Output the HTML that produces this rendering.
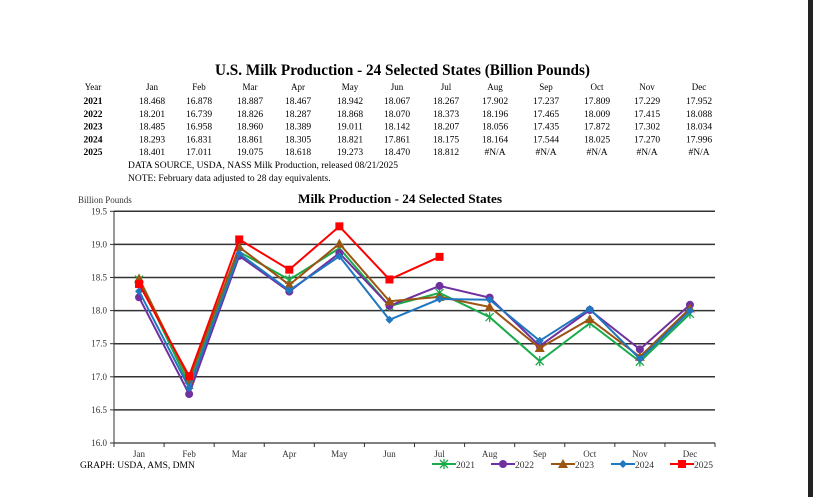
<!DOCTYPE html>
<html><head><meta charset="utf-8"><style>
body{margin:0;background:#fff;width:813px;height:497px;overflow:hidden}
svg{display:block;font-family:"Liberation Serif",serif}
</style></head><body>
<svg id="s" width="813" height="497" xmlns="http://www.w3.org/2000/svg">
<rect x="808" y="0" width="5" height="497" fill="#222"/>
<text x="215" y="75" font-size="16" font-weight="bold" textLength="375" lengthAdjust="spacingAndGlyphs">U.S. Milk Production - 24 Selected States (Billion Pounds)</text>
<text x="298" y="203" font-size="13" font-weight="bold" textLength="204" lengthAdjust="spacingAndGlyphs">Milk Production - 24 Selected States</text>
<text x="78" y="203" font-size="9" fill="#333">Billion Pounds</text>
<text x="128" y="168" font-size="9.5">DATA SOURCE, USDA, NASS Milk Production, released 08/21/2025</text>
<text x="128" y="181" font-size="9.5">NOTE: February data adjusted to 28 day equivalents.</text>
<text x="80" y="468" font-size="9.5">GRAPH: USDA, AMS, DMN</text>
</svg>
<script>
const s=document.getElementById('s');const NS='http://www.w3.org/2000/svg';
function el(t,a,txt){const e=document.createElementNS(NS,t);for(const k in a)e.setAttribute(k,a[k]);if(txt!=null)e.textContent=txt;s.appendChild(e);return e;}
const mon=['Jan','Feb','Mar','Apr','May','Jun','Jul','Aug','Sep','Oct','Nov','Dec'];
const cx=[152,199,250,298,350,397,446,495,546,597,647,699];
const D={2021:[18.468,16.878,18.887,18.467,18.942,18.067,18.267,17.902,17.237,17.809,17.229,17.952],
2022:[18.201,16.739,18.826,18.287,18.868,18.070,18.373,18.196,17.465,18.009,17.415,18.088],
2023:[18.485,16.958,18.960,18.389,19.011,18.142,18.207,18.056,17.435,17.872,17.302,18.034],
2024:[18.293,16.831,18.861,18.305,18.821,17.861,18.175,18.164,17.544,18.025,17.270,17.996],
2025:[18.401,17.011,19.075,18.618,19.273,18.470,18.812]};
el('text',{x:93,y:90,'font-size':9,'text-anchor':'middle'},'Year');
mon.forEach((m,i)=>el('text',{x:cx[i],y:90,'font-size':9,'text-anchor':'middle'},m));
let ry=104;
for(const y in D){el('text',{x:93,y:ry,'font-size':9.5,'font-weight':'bold','text-anchor':'middle'},y);
for(let i=0;i<12;i++){const v=D[y][i];el('text',{x:cx[i],y:ry,'font-size':9.5,'text-anchor':'middle'},v==null?'#N/A':v.toFixed(3));}
ry+=12.8;}
const L=114,R=715,W=(R-L)/12;
const Y=v=>443-(v-16)*66.2;
for(let k=0;k<=7;k++){const v=16+k*0.5,yy=Y(v);
el('line',{x1:L,x2:R,y1:yy,y2:yy,stroke:'#333','stroke-width':k==0?1.2:1.5});
el('line',{x1:L-4,x2:L,y1:yy,y2:yy,stroke:'#333'});
el('text',{x:L-7,y:yy+3,'font-size':9,'text-anchor':'end',fill:'#333'},v.toFixed(1));}
el('line',{x1:L,x2:L,y1:Y(19.5),y2:443,stroke:'#333'});
for(let i=0;i<=12;i++)el('line',{x1:L+i*W,x2:L+i*W,y1:443,y2:447,stroke:'#333'});
mon.forEach((m,i)=>el('text',{x:L+W*(i+.5),y:457,'font-size':9,'text-anchor':'middle',fill:'#333'},m));
const C={2021:'#1aab4b',2022:'#7030a0',2023:'#9c5412',2024:'#1f77c0',2025:'#ff0000'};
function mk(y,x,yy,c){
if(y==2021){el('path',{d:`M${x-4} ${yy-4}L${x+4} ${yy+4}M${x+4} ${yy-4}L${x-4} ${yy+4}M${x} ${yy-5}V${yy+5}`,stroke:c,'stroke-width':1.3});}
else if(y==2022)el('circle',{cx:x,cy:yy,r:4,fill:c});
else if(y==2023)el('path',{d:`M${x} ${yy-5}L${x+5} ${yy+4}L${x-5} ${yy+4}Z`,fill:c});
else if(y==2024)el('path',{d:`M${x} ${yy-4}L${x+4} ${yy}L${x} ${yy+4}L${x-4} ${yy}Z`,fill:c});
else el('rect',{x:x-4,y:yy-4,width:8,height:8,fill:c});}
for(const y in D){const p=D[y].map((v,i)=>[L+W*(i+.5),Y(v)]);
el('polyline',{points:p.map(q=>q.join(',')).join(' '),fill:'none',stroke:C[y],'stroke-width':2});
p.forEach(q=>mk(y,q[0],q[1],C[y]));}
const lx=[432,491,551,611,670];let j=0;
for(const y in D){const x=lx[j++];el('line',{x1:x,x2:x+24,y1:464,y2:464,stroke:C[y],'stroke-width':2});mk(y,x+12,464,C[y]);
el('text',{x:x+24,y:468,'font-size':9.5,fill:'#333'},y);}
</script>
</body></html>
